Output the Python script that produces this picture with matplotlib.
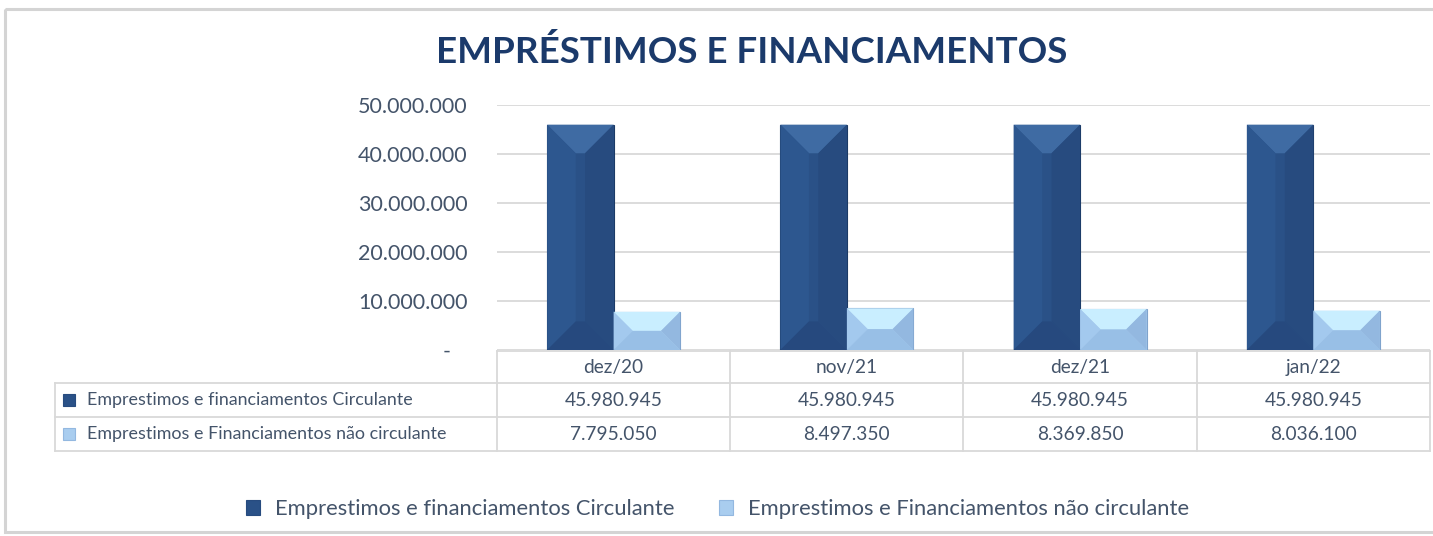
import matplotlib.pyplot as plt
import matplotlib.transforms as mtransforms
from matplotlib.patches import Polygon, Rectangle, Patch
import numpy as np

plt.rcParams['font.family'] = ['Lato', 'DejaVu Sans']

# data
title = 'EMPRÉSTIMOS E FINANCIAMENTOS'
categories = ['dez/20', 'nov/21', 'dez/21', 'jan/22']
series_names = ['Emprestimos e financiamentos Circulante',
                'Emprestimos e Financiamentos não circulante']
circulante = [45980945, 45980945, 45980945, 45980945]
nao_circulante = [7795050, 8497350, 8369850, 8036100]
yticks = [0, 10000000, 20000000, 30000000, 40000000, 50000000]

text_color = '#44546A'
grid_color = '#D9D9D9'
# base, top, left, right, bottom facets
dark = ['#2A5187', '#3F6BA3', '#2D578F', '#274B7F', '#26497E']
light = ['#A9CDEF', '#C9EEFF', '#A3C9EE', '#93B8E0', '#98BFE6']


def fmt(v):
    return f"{v:,.0f}".replace(",", ".")


W, H = 1433, 536
fig = plt.figure(figsize=(W / 100, H / 100), dpi=100)

# background overlay in pixel coordinates (frame + table)
bg = fig.add_axes([0, 0, 1, 1])
bg.set_xlim(0, W)
bg.set_ylim(H, 0)
bg.axis('off')
bg.add_patch(Rectangle((5, 9), W + 10, 523, fill=False, ec='#D4D4D4', lw=2.2))

ax = fig.add_axes([497 / W, 1 - 350 / H, 933 / W, 245 / H])
ax.set_zorder(2)
ax.patch.set_alpha(0)

x = np.arange(len(categories))
w = 0.285
bars1 = ax.bar(x - w / 2, circulante, w, color=dark[0], ec='#1B3A66', lw=0.8, zorder=3)
bars2 = ax.bar(x + w / 2, nao_circulante, w, color=light[0], ec='#7FA3CC', lw=0.8, zorder=3)

ax.set_xlim(-0.5, len(categories) - 0.5)
ax.set_ylim(0, 50000000)
ax.set_yticks(yticks)
ax.set_yticklabels(['-   ' if v == 0 else fmt(v) for v in yticks])
ax.set_xticks([])
ax.tick_params(axis='y', length=0, pad=21, labelsize=15.5, labelcolor=text_color)
ax.yaxis.grid(True, color=grid_color, lw=1.3)
ax.set_axisbelow(True)
for s in ax.spines.values():
    s.set_visible(False)


def bevel(bars, cols):
    ident = mtransforms.IdentityTransform()
    for b in bars:
        (x0, y0), (x1, y1) = ax.transData.transform(
            [(b.get_x(), 0), (b.get_x() + b.get_width(), b.get_height())])
        d = min(0.43 * (x1 - x0), (y1 - y0) / 2)
        facets = [
            ([(x0, y1), (x1, y1), (x1 - d, y1 - d), (x0 + d, y1 - d)], cols[1]),
            ([(x0, y0), (x0, y1), (x0 + d, y1 - d), (x0 + d, y0 + d)], cols[2]),
            ([(x1, y0), (x1, y1), (x1 - d, y1 - d), (x1 - d, y0 + d)], cols[3]),
            ([(x0, y0), (x1, y0), (x1 - d, y0 + d), (x0 + d, y0 + d)], cols[4]),
        ]
        for pts, c in facets:
            ax.add_patch(Polygon(pts, closed=True, fc=c, ec='none',
                                 transform=ident, zorder=4))


bevel(bars1, dark)
bevel(bars2, light)

# data table under the chart
col_edges = [ax.transData.transform((i - 0.5, 0))[0] for i in range(len(categories) + 1)]
row_edges = [351, 383, 417, 451]
left = 55
lc = dict(color=grid_color, lw=1.3)
bg.plot([col_edges[0], col_edges[-1]], [row_edges[0]] * 2, **lc)
for yy in row_edges[1:]:
    bg.plot([left, col_edges[-1]], [yy] * 2, **lc)
bg.plot([left, left], [row_edges[1], row_edges[-1]], **lc)
for xx in col_edges:
    bg.plot([xx, xx], [row_edges[0], row_edges[-1]], **lc)

fs_tab = 13.8
for i, cat in enumerate(categories):
    cx = (col_edges[i] + col_edges[i + 1]) / 2
    bg.text(cx, (row_edges[0] + row_edges[1]) / 2, cat, ha='center', va='center',
            fontsize=fs_tab, color=text_color)
    for r, vals in enumerate([circulante, nao_circulante]):
        bg.text(cx, (row_edges[r + 1] + row_edges[r + 2]) / 2, fmt(vals[i]),
                ha='center', va='center', fontsize=fs_tab, color=text_color)

for r, (name, cols) in enumerate(zip(series_names, [dark, light])):
    cy = (row_edges[r + 1] + row_edges[r + 2]) / 2
    bg.add_patch(Rectangle((63, cy - 6), 12, 12, fc=cols[0], ec=cols[3], lw=0.8))
    bg.text(87, cy, name, ha='left', va='center', fontsize=12.9, color=text_color)

# legend
handles = [Patch(fc=c[0], ec=c[3], lw=0.8) for c in [dark, light]]
fig.legend(handles, series_names, loc='center',
           bbox_to_anchor=((248 + 1187) / 2 / W, 1 - 509 / H), ncol=2, frameon=False,
           fontsize=15.8, handlelength=0.65, handleheight=0.65, handletextpad=0.7,
           columnspacing=2.0, labelcolor=text_color)

fig.text(752 / W, 1 - 52 / H, title, ha='center', va='center', fontsize=26.5,
         fontweight='bold', color='#1B3A6B')

fig.savefig('out.png', dpi=100)
